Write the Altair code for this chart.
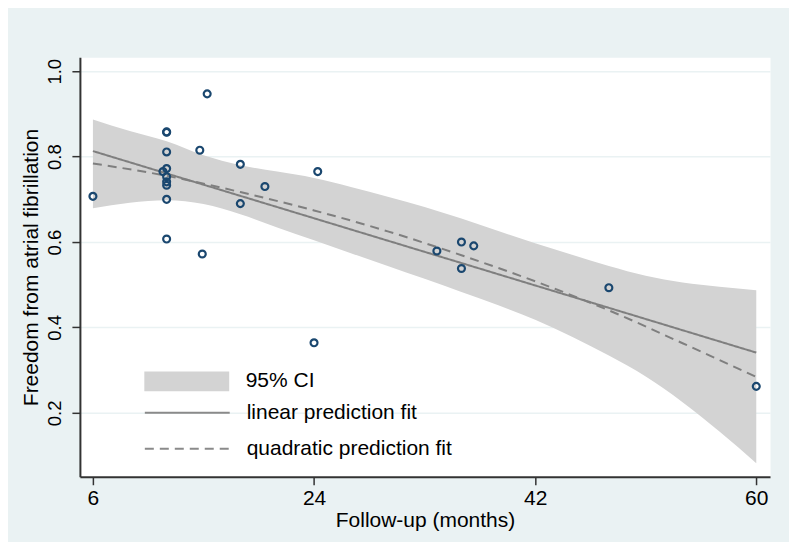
import altair as alt
import pandas as pd

# ---- data ----
months = [6, 12, 12, 12, 12, 11.7, 12, 12, 12, 12, 12,
          15.3, 14.7, 14.9, 18, 18, 20, 24.3, 24, 34, 36, 37, 36, 48, 60]
freedom = [0.707, 0.858, 0.857, 0.811, 0.772, 0.765, 0.753, 0.741, 0.733, 0.700, 0.607,
           0.947, 0.815, 0.572, 0.782, 0.690, 0.730, 0.765, 0.364, 0.579, 0.600, 0.591, 0.538, 0.493, 0.262]

ci_x = [6, 9, 12, 15, 18, 21, 24, 27, 30, 33, 36, 39, 42, 45, 48, 51, 54, 57, 60]
ci_hi = [0.887, 0.860, 0.836, 0.803, 0.780, 0.765, 0.750, 0.729, 0.706, 0.682, 0.655, 0.626,
         0.597, 0.570, 0.544, 0.521, 0.505, 0.495, 0.487]
ci_lo = [0.679, 0.692, 0.698, 0.689, 0.665, 0.634, 0.604, 0.574, 0.544, 0.514, 0.483, 0.452,
         0.418, 0.378, 0.334, 0.285, 0.225, 0.156, 0.082]

lin_x = [6, 60]
lin_y = [0.813, 0.341]

quad_x = [6, 12, 18, 24, 30, 36, 42, 48, 54, 60]
quad_y = [0.784, 0.755, 0.717, 0.674, 0.625, 0.569, 0.508, 0.440, 0.363, 0.284]

ci_label = "95% CI"
fit_labels = ["linear prediction fit", "quadratic prediction fit"]
x_ticks = [6, 24, 42, 60]
y_ticks = [0.2, 0.4, 0.6, 0.8, 1.0]

# ---- tables ----
pts = pd.DataFrame({"m": months, "f": freedom})
ci = pd.DataFrame({"m": ci_x, "lo": ci_lo, "hi": ci_hi, "s": ci_label})
fits = pd.concat([
    pd.DataFrame({"m": lin_x, "v": lin_y, "fit": fit_labels[0]}),
    pd.DataFrame({"m": quad_x, "v": quad_y, "fit": fit_labels[1]}),
])

FONT = "Liberation Sans"
xs = alt.Scale(domain=[4.94, 61.12], nice=False, zero=False)
ys = alt.Scale(domain=[0.0503, 1.0327], nice=False, zero=False)

xax = alt.Axis(values=x_ticks, title="Follow-up (months)", grid=False,
               labelFontSize=21, titleFontSize=21, labelPadding=3, titlePadding=1)
yax = alt.Axis(values=y_ticks, format=".1f", title="Freedom from atrial fibrillation",
               grid=True, labelAngle=270, labelAlign="center", labelBaseline="bottom",
               labelFontSize=18.5, titleFontSize=21, labelPadding=7, titlePadding=4)

band = alt.Chart(ci).mark_area(opacity=1, interpolate="monotone").encode(
    x=alt.X("m:Q", scale=xs, axis=xax),
    y=alt.Y("lo:Q", scale=ys, axis=yax),
    y2="hi:Q",
    fill=alt.Fill("s:N", scale=alt.Scale(domain=[ci_label], range=["#D3D3D3"]),
                  legend=alt.Legend(orient="none", legendX=96.5, legendY=314, title=None,
                                    symbolType="M-4.25,-1H4.25V1H-4.25Z", symbolSize=400,
                                    symbolStrokeWidth=0, symbolOpacity=1,
                                    labelFontSize=21, labelOffset=48.5, labelLimit=400,
                                    padding=0)),
)

lines = alt.Chart(fits).mark_line(color="#7f7f7f", strokeWidth=2, interpolate="monotone").encode(
    x="m:Q",
    y="v:Q",
    strokeDash=alt.StrokeDash("fit:N",
                              scale=alt.Scale(domain=fit_labels, range=[[1, 0], [9, 6]]),
                              legend=alt.Legend(orient="none", legendX=96.5, legendY=345, title=None,
                                                symbolType="M-4.25,0H4.25", symbolSize=400,
                                                symbolStrokeColor="#8a8a8a", symbolStrokeWidth=2,
                                                symbolFillColor="transparent",
                                                labelFontSize=21, labelOffset=48.5, labelLimit=400,
                                                rowPadding=15, padding=0)),
)

points = alt.Chart(pts).mark_point(filled=False, color="#1a476f", strokeWidth=2.2, size=48,
                                   opacity=1).encode(
    x="m:Q",
    y="f:Q",
)

chart = alt.layer(band, lines, points).resolve_legend(fill="independent", strokeDash="independent").properties(
    width=691, height=420,
    padding={"left": 72, "top": 49, "right": 19, "bottom": 65},
    autosize=alt.AutoSizeParams(type="none"),
    background="#EAF2F3",
).configure_view(fill="white", stroke="transparent").configure_axis(
    labelFont=FONT, titleFont=FONT,
    titleFontWeight="normal", labelColor="#000000", titleColor="#000000",
    domainColor="#333333", domainWidth=2, tickColor="#333333", tickWidth=1.5, tickSize=8,
    gridColor="#EAF2F3", gridWidth=1.5,
).configure_legend(labelFont=FONT, labelColor="#000000")

chart.save("out.html", embed_options={"renderer": "svg", "actions": False})
